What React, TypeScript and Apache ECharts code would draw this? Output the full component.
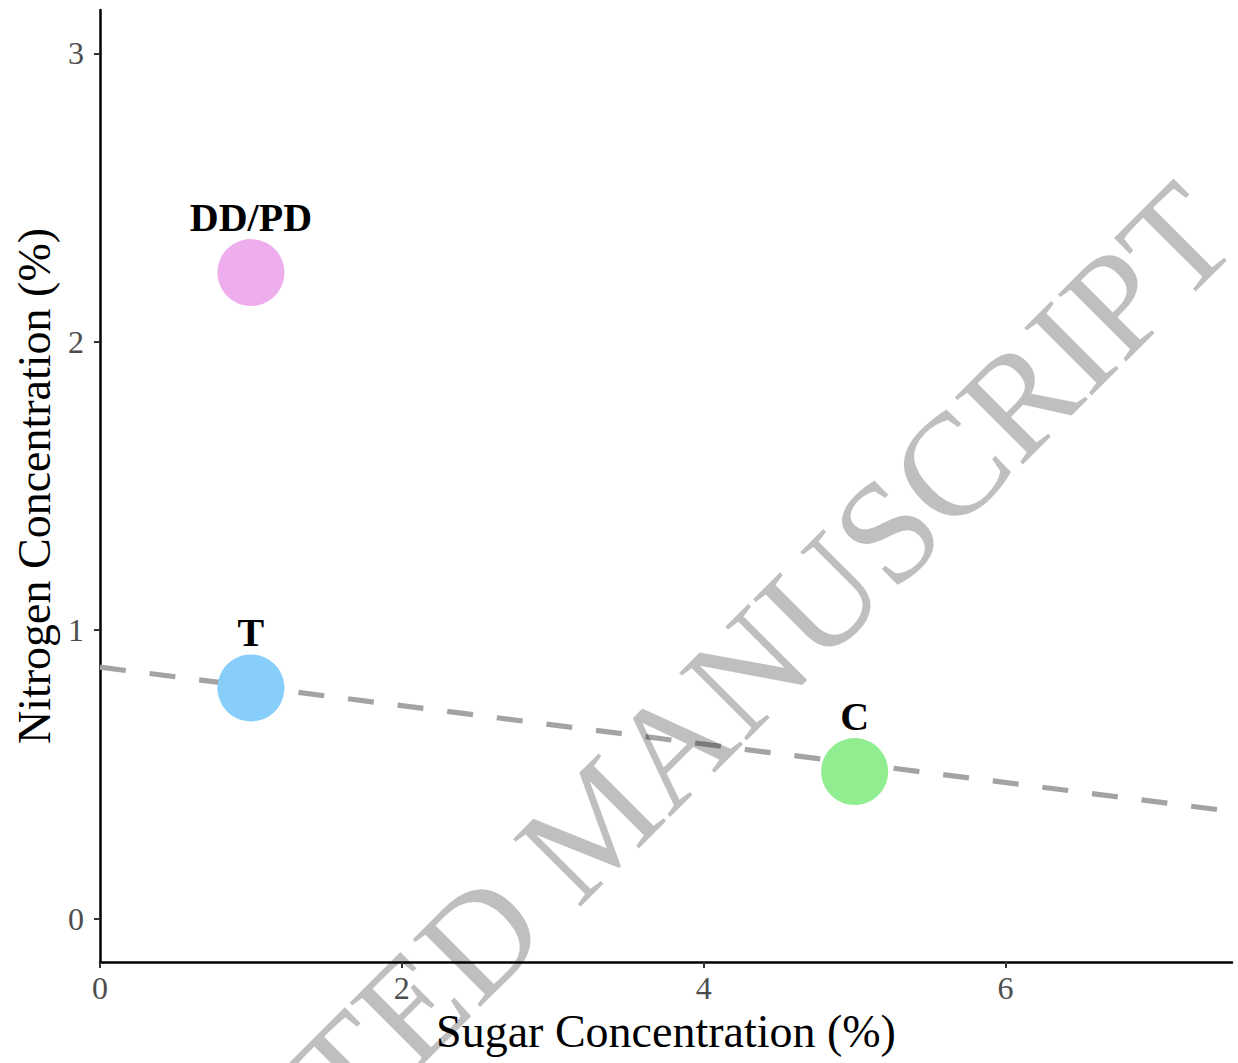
import React, { useEffect, useRef } from "react";
import * as echarts from "echarts";

const pointNames = ["DD/PD", "T", "C"];
const sugarValues = [1, 1, 5];
const nitrogenValues = [2.24, 0.8, 0.51];
const pointColors = ["#EEAEEE", "#87CEFA", "#90EE90"];
const trendX = [0, 7.5];
const trendY = [0.872, 0.372];
const xTicks = [0, 2, 4, 6];
const yTicks = [0, 1, 2, 3];
const watermarkText = "ACCEPTED MANUSCRIPT";

const SERIF = "'Liberation Serif', 'Times New Roman', serif";

export default function App() {
  const ref = useRef<HTMLDivElement>(null);
  useEffect(() => {
    document.body.style.margin = "0";
    if (!ref.current) return;
    const chart = echarts.init(ref.current, undefined, { renderer: "svg" });
    const points = pointNames.map((n, i) => ({
      name: n,
      value: [sugarValues[i], nitrogenValues[i]],
      itemStyle: { color: pointColors[i], opacity: 1 },
    }));
    const trend = trendX.map((x, i) => [x, trendY[i]]);
    chart.setOption({
      animation: false,
      backgroundColor: "#fff",
      grid: { left: 100, right: 6, top: 10, bottom: 101, containLabel: false },
      xAxis: {
        type: "value",
        min: 0,
        max: 7.5,
        name: "Sugar Concentration (%)",
        nameLocation: "middle",
        nameGap: 44,
        nameTextStyle: { fontSize: 46, color: "#000", fontFamily: SERIF },
        axisLine: { show: true, onZero: false, lineStyle: { color: "#000", width: 2.5 } },
        axisTick: { show: true, length: 6, customValues: xTicks, lineStyle: { color: "#333", width: 2 } },
        axisLabel: { customValues: xTicks, fontSize: 32, color: "#4d4d4d", fontFamily: SERIF, margin: 10 },
        splitLine: { show: false },
      },
      yAxis: {
        type: "value",
        min: -0.15,
        max: 3.15,
        name: "Nitrogen Concentration (%)",
        nameLocation: "middle",
        nameGap: 42,
        nameTextStyle: { fontSize: 46, color: "#000", fontFamily: SERIF },
        axisLine: { show: true, onZero: false, lineStyle: { color: "#000", width: 2.5 } },
        axisTick: { show: true, length: 6, customValues: yTicks, lineStyle: { color: "#333", width: 2 } },
        axisLabel: { customValues: yTicks, fontSize: 32, color: "#4d4d4d", fontFamily: SERIF, margin: 16 },
        splitLine: { show: false },
      },
      series: [
        {
          type: "line",
          data: trend,
          symbol: "none",
          z: 1,
          lineStyle: { color: "#a3a3a3", width: 5.2, type: [26, 24] },
        },
        {
          type: "scatter",
          data: points,
          symbolSize: 67,
          z: 3,
          label: {
            show: true,
            position: "top",
            distance: 2,
            formatter: "{b}",
            fontFamily: SERIF,
            fontWeight: "bold",
            fontSize: 40,
            color: "#000",
          },
        },
      ],
      graphic: [
        {
          type: "text",
          x: 596,
          y: 822,
          rotation: Math.PI / 4,
          z: 100,
          silent: true,
          style: {
            text: watermarkText,
            fontSize: 146,
            fontFamily: SERIF,
            fill: "rgba(0,0,0,0.25)",
            align: "center",
            verticalAlign: "middle",
          },
        },
      ],
    });
    return () => chart.dispose();
  }, []);
  return (
    <div
      ref={ref}
      style={{ position: "absolute", left: 0, top: 0, width: 1238, height: 1063 }}
    />
  );
}
